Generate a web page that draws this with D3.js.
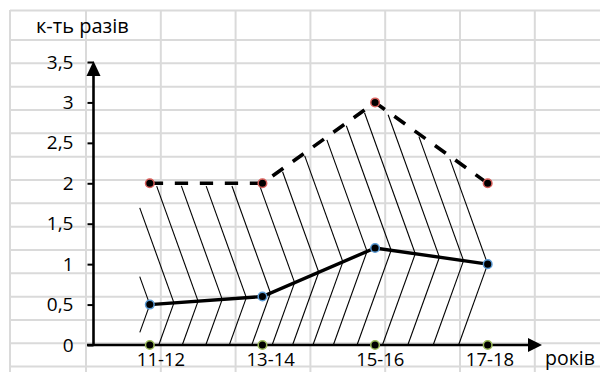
<!DOCTYPE html>
<html>
<head>
<meta charset="utf-8">
<script src="https://cdn.jsdelivr.net/npm/d3@7"></script>
<style>
  body { margin: 0; background: #fff; }
  svg { display: block; }
  text { font-family: "Open Sans", Lato, sans-serif; font-weight: 400; fill: #000; }
</style>
</head>
<body>
<svg id="chart" width="600" height="372"></svg>
<script>
// Academic years and the two ratios per year
const categories = ["11-12", "13-14", "15-16", "17-18"];
const upperValues = [2, 2, 3, 2];
const lowerValues = [0.5, 0.6, 1.2, 1.0];
const baseValues = [0, 0, 0, 0];
const yTickValues = [0, 0.5, 1, 1.5, 2, 2.5, 3, 3.5];
const yAxisTitle = "к-ть разів";
const xAxisTitle = "років";

const W = 600, H = 372;
const svg = d3.select("#chart");

// Spreadsheet cell grid behind the chart
const colLines = [10, ...d3.range(86, W, 74.8)];
const rowLines = [10.5, ...d3.range(40, H, 23.33)];
const grid = svg.append("g").attr("stroke", "#dadada").attr("stroke-width", 2);
grid.selectAll("line.v").data(colLines).join("line").attr("class", "v")
  .attr("x1", d => d).attr("x2", d => d).attr("y1", 10).attr("y2", H);
grid.selectAll("line.h").data(rowLines).join("line").attr("class", "h")
  .attr("x1", 10).attr("x2", W).attr("y1", d => d).attr("y2", d => d);

// Scales
const x = d3.scaleBand().domain(categories).range([93.5, 544]);
const cx = c => x(c) + x.bandwidth() / 2;
const y = d3.scaleLinear().domain([0, 3.5]).range([345, 62]);
const xLabel = d3.scalePoint().domain(categories).range([161, 490]);

const xs = categories.map(cx);
const upperAt = d3.scaleLinear().domain(xs).range(upperValues.map(y)).clamp(true);
const lowerAt = d3.scaleLinear().domain(xs).range(lowerValues.map(y)).clamp(true);
const y0 = y(0);

// Hatching: chevrons meeting on the lower line, "\" above it and "/" below it
const k = 0.36;            // horizontal run per unit of vertical run
const xLeft = xs[0] - 10;  // hatching stops just left of the first year
const nHatch = 14;
const meet = d3.range(0, nHatch + 1).map(i => xs[0] + i * (xs[xs.length - 1] - xs[0]) / nHatch);
const hatch = [];
meet.forEach(px => {
  const py = lowerAt(px);
  // upward-left stroke up to the dashed line
  let t = 0;
  while (t < 400) {
    const xx = px - k * t, yy = py - t;
    if (xx < xLeft || yy <= upperAt(xx) + 3) break;
    t += 0.5;
  }
  if (t > 2) hatch.push([px, py, px - k * t, py - t]);
  // downward-left stroke to the x axis
  let d = y0 - py;
  if (px - k * d < xLeft) d = (px - xLeft) / k;
  if (d > 2) hatch.push([px, py, px - k * d, py + d]);
});
svg.append("g").attr("stroke", "#000").attr("stroke-width", 1.1)
  .selectAll("line").data(hatch).join("line")
  .attr("x1", d => d[0]).attr("y1", d => d[1])
  .attr("x2", d => d[2]).attr("y2", d => d[3]);

// Y axis with ticks and labels
const fmt = d3.formatLocale({ decimal: ",", thousands: " ", grouping: [3], currency: ["", ""] }).format("~g");
const yAxis = svg.append("g").attr("transform", "translate(93.5,0)")
  .call(d3.axisLeft(y).tickValues(yTickValues).tickSize(6).tickSizeOuter(0).tickPadding(14).tickFormat(fmt));
yAxis.select(".domain").remove();
yAxis.selectAll(".tick line").attr("stroke", "#000").attr("stroke-width", 2);
yAxis.selectAll(".tick text").attr("font-size", 19)
  .attr("font-family", "'Open Sans', sans-serif").attr("fill", "#000");

const axes = svg.append("g");
axes.append("line").attr("x1", 93.5).attr("x2", 93.5).attr("y1", y0 + 1).attr("y2", 74)
  .attr("stroke", "#000").attr("stroke-width", 2.6);
axes.append("path").attr("d", "M93.5,61 L86.5,76 L100.5,76 Z").attr("fill", "#000");
axes.append("line").attr("x1", 87).attr("x2", 530).attr("y1", y0).attr("y2", y0)
  .attr("stroke", "#000").attr("stroke-width", 2.6);
axes.append("path").attr("d", `M542,${y0} L528,${y0 - 7} L528,${y0 + 7} Z`).attr("fill", "#000");

// Series lines
const line = vals => d3.line().x((d, i) => xs[i]).y(d => y(d))(vals);
svg.append("path").attr("d", line(upperValues)).attr("fill", "none")
  .attr("stroke", "#000").attr("stroke-width", 3.6).attr("stroke-dasharray", "13.3 11.7");
svg.append("path").attr("d", line(lowerValues)).attr("fill", "none")
  .attr("stroke", "#000").attr("stroke-width", 3.4);

// Markers
const series = [
  { values: upperValues, ring: "#d9605c" },
  { values: lowerValues, ring: "#5b9bd5" },
  { values: baseValues, ring: "#9bbb59" }
];
series.forEach(s => {
  svg.append("g").selectAll("circle").data(s.values).join("circle")
    .attr("cx", (d, i) => xs[i]).attr("cy", d => y(d)).attr("r", 4.3)
    .attr("fill", "#000").attr("stroke", s.ring).attr("stroke-width", 1.5);
});

// Category labels
svg.append("g").selectAll("text").data(categories).join("text")
  .attr("x", d => xLabel(d)).attr("y", 366).attr("text-anchor", "middle")
  .attr("font-size", 18.5).text(d => d);

// Axis titles
svg.append("text").attr("x", 36).attr("y", 33).attr("font-size", 20).text(yAxisTitle);
svg.append("text").attr("x", 545).attr("y", 365).attr("font-size", 19.5).text(xAxisTitle);
</script>
</body>
</html>
